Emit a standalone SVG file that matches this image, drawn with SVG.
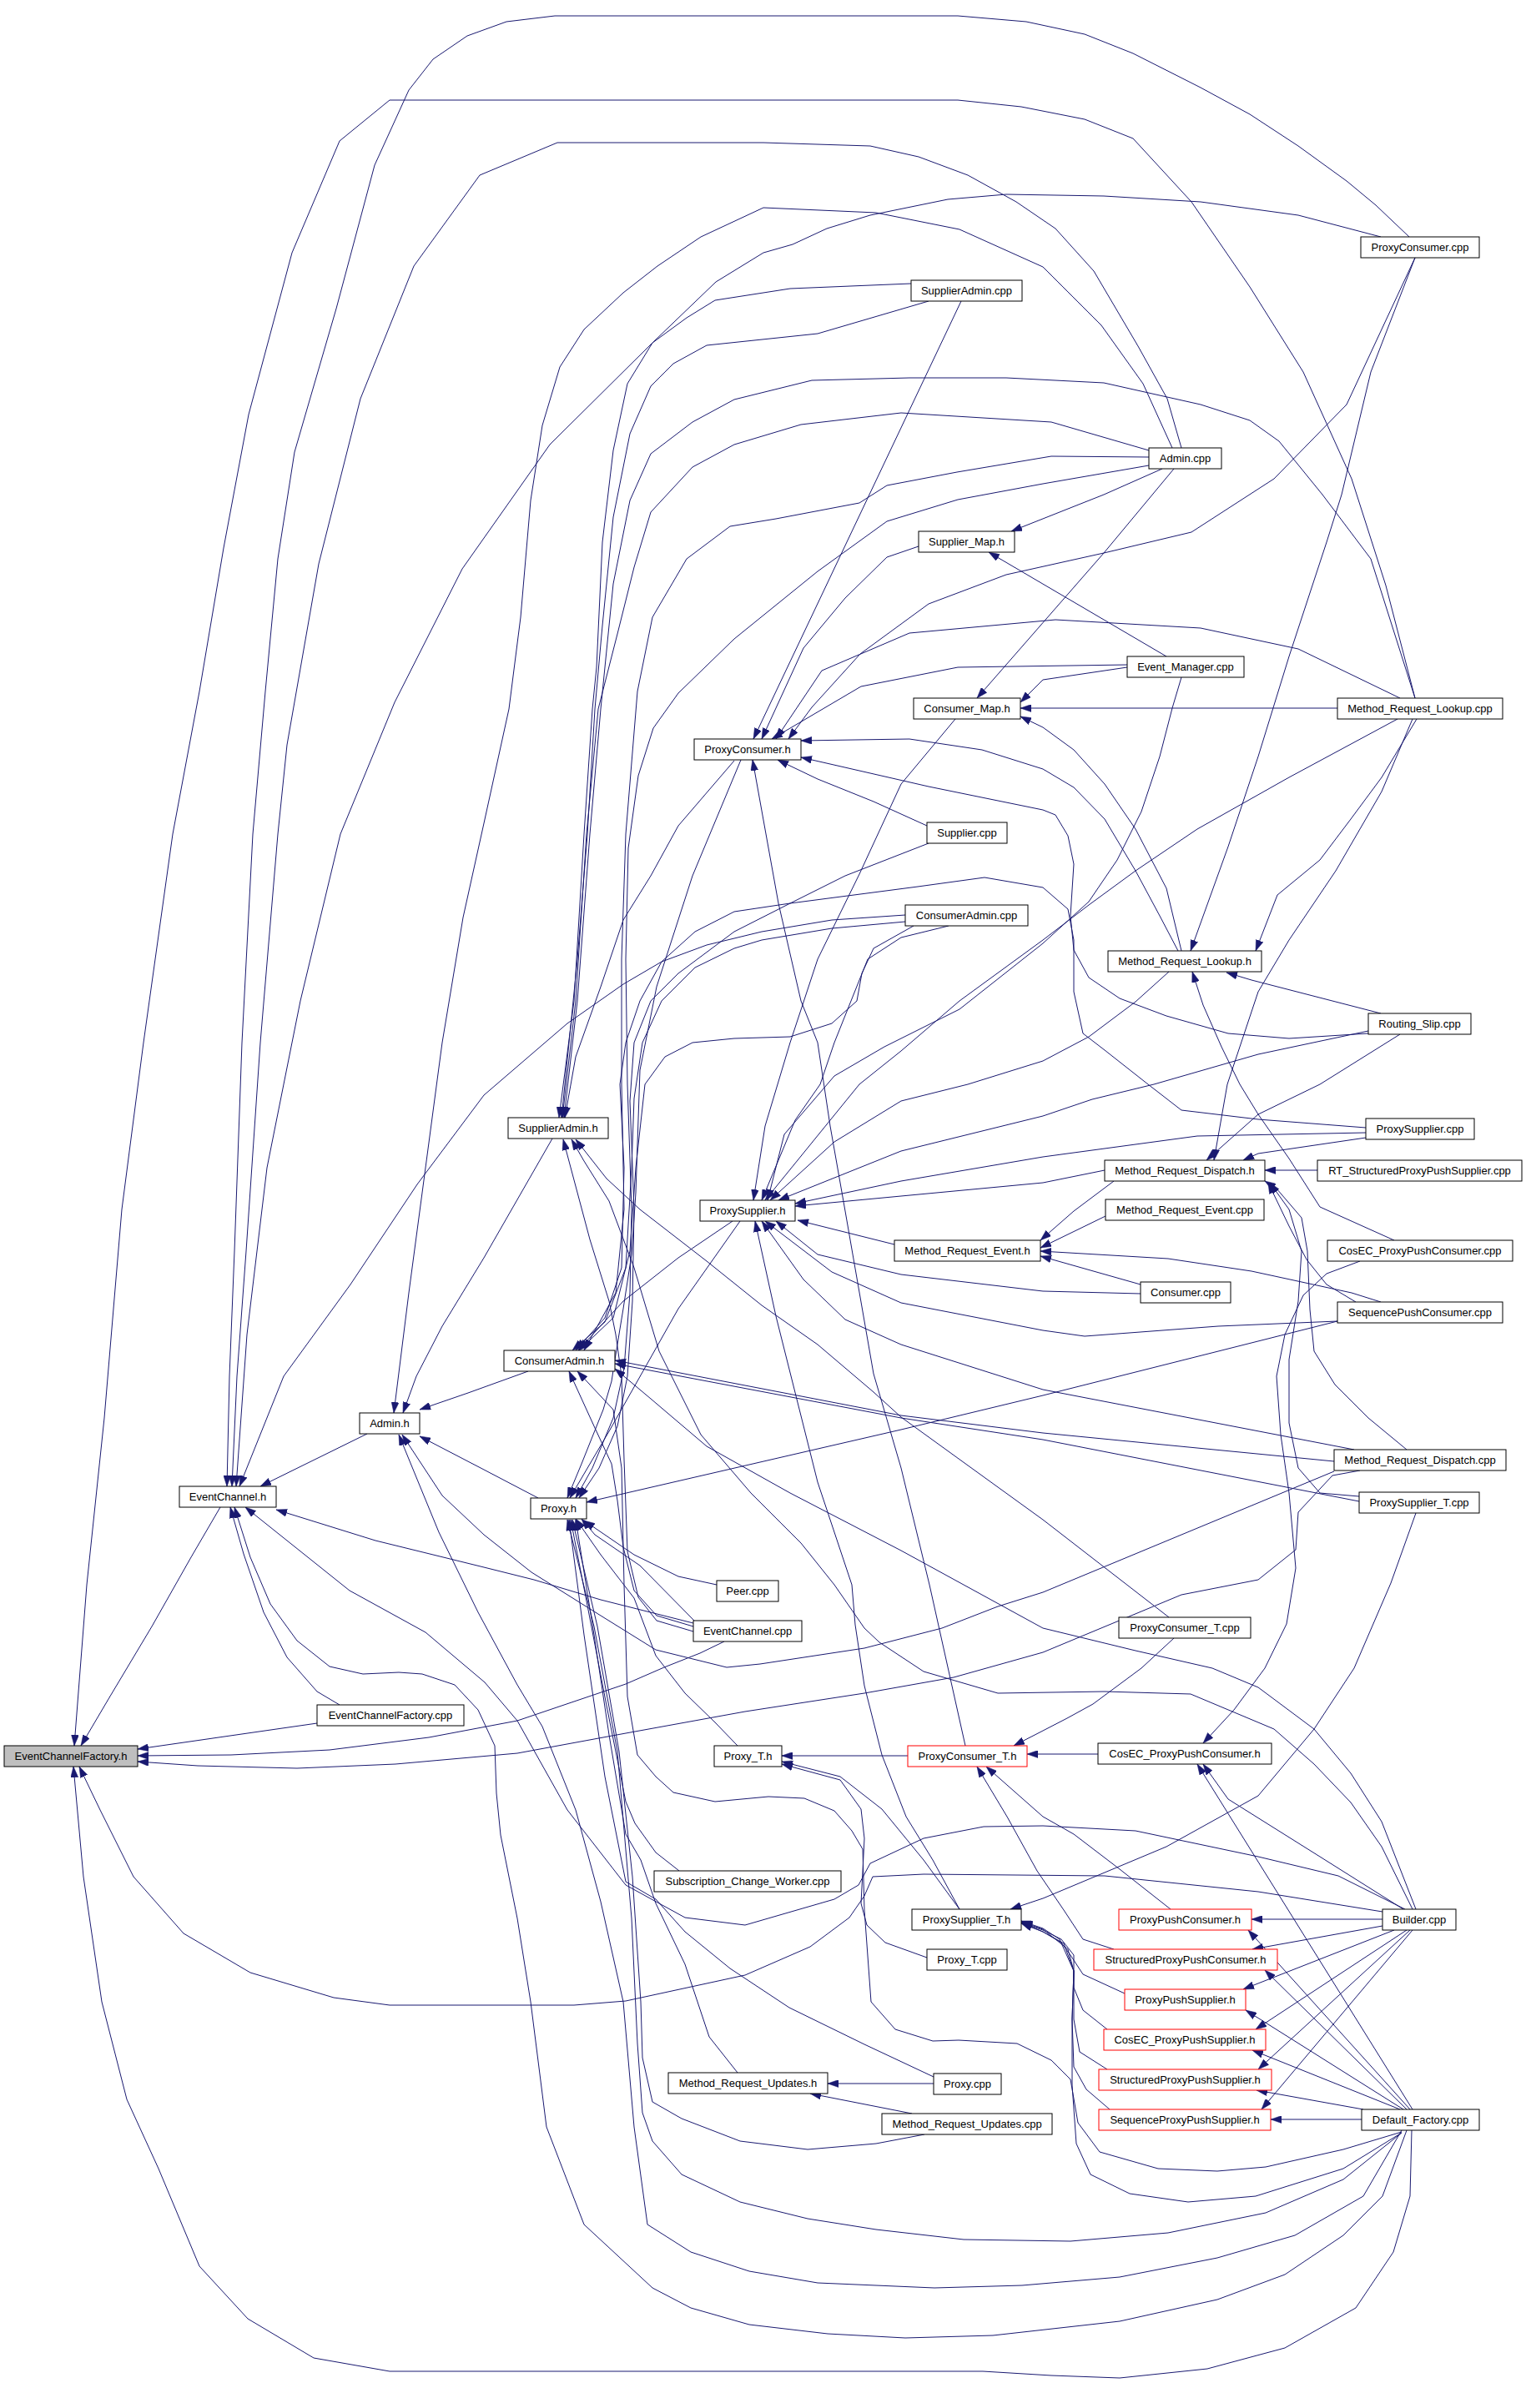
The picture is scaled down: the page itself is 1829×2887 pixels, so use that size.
<svg xmlns="http://www.w3.org/2000/svg" width="1829" height="2887" viewBox="0 0 1829 2887">
<style>
.nd rect{fill:#ffffff;stroke:#000000;stroke-width:1}
.gr rect{fill:#bfbfbf}
.rd rect{stroke:#ff0000}
.nd text{font-family:"Liberation Sans",Arial,sans-serif;font-size:13px;text-anchor:middle;fill:#000000}
#edges path{fill:none;stroke:#191970;stroke-width:1;stroke-linejoin:round;marker-end:url(#a)}
</style>
<defs>
<marker id="a" viewBox="0 0 13 9" refX="13" refY="4.5" markerWidth="13" markerHeight="9" markerUnits="userSpaceOnUse" orient="auto"><path d="M0,0 L13,4.5 L0,9 z" fill="#191970" stroke="#191970" stroke-width="0.5"/></marker>
</defs>
<rect width="1829" height="2887" fill="#ffffff"/>
<g id="edges">
<path d="M264,1807 L229,1867 L182,1950 L130,2037 L97,2093"/>
<path d="M1696,837 L1661,702 L1620,574 L1562,446 L1498,344 L1428,242 L1358,166 L1300,143 L1224,128 L1148,120 L467,120 L407,169 L350,303 L298,497 L268,657 L239,829 L207,1000 L172,1250 L146,1450 L125,1700 L104,1900 L89,2093"/>
<path d="M380,2066 L165,2097"/>
<path d="M868,1968 L839,1982 L796,1999 L750,2019 L620,2063 L514,2083 L395,2098 L277,2104 L165,2105"/>
<path d="M1630,1763 L1597,1769 L1556,1813 L1553,1858 L1508,1894 L1416,1912 L1250,1981 L1143,2011 L1036,2030 L893,2052 L750,2078 L620,2102 L474,2115 L356,2120 L237,2117 L165,2112"/>
<path d="M1657,2292 L1508,2268 L1324,2249 L1107,2247 L1046,2250 L1036,2273 L1018,2299 L971,2334 L893,2368 L750,2399 L688,2404 L467,2404 L400,2395 L300,2365 L220,2318 L160,2250 L120,2170 L95,2118"/>
<path d="M1692,2554 L1690,2633 L1670,2700 L1625,2767 L1540,2815 L1447,2840 L1342,2851 L1260,2848 L1178,2843 L467,2843 L376,2827 L297,2780 L239,2717 L190,2600 L152,2517 L122,2400 L100,2250 L88,2118"/>
<path d="M1689,284 L1649,246 L1614,217 L1556,175 L1498,137 L1439,105 L1358,64 L1300,41 L1230,26 L1148,19 L665,19 L607,26 L560,43 L519,71 L490,108 L449,198 L403,370 L353,542 L333,670 L318,829 L303,1000 L290,1250 L281,1500 L275,1650 L272,1782"/>
<path d="M1416,537 L1399,478 L1364,415 L1311,325 L1265,274 L1218,242 L1160,210 L1101,188 L1043,175 L915,171 L668,171 L575,210 L496,319 L432,478 L382,676 L344,893 L333,1000 L312,1250 L295,1500 L284,1650 L278,1782"/>
<path d="M1655,284 L1556,258 L1439,242 L1323,235 L1206,233 L1136,239 L1043,258 L991,274 L950,293 L915,303 L858,338 L782,411 L659,533 L554,682 L473,842 L408,1000 L360,1200 L320,1400 L296,1600 L283,1782"/>
<path d="M1085,1097 L997,1103 L913,1117 L847,1133 L793,1153 L747,1180 L680,1227 L580,1313 L500,1420 L420,1540 L340,1650 L287,1782"/>
<path d="M440,1719 L312,1782"/>
<path d="M831,1946 L720,1918 L640,1894 L580,1879 L450,1847 L331,1810"/>
<path d="M407,2044 L380,2028 L344,1987 L316,1933 L292,1863 L276,1807"/>
<path d="M1686,2554 L1657,2633 L1610,2680 L1540,2727 L1459,2757 L1342,2783 L1190,2800 L1085,2803 L992,2798 L898,2787 L828,2767 L782,2743 L700,2667 L655,2550 L636,2400 L620,2300 L600,2200 L595,2150 L593,2093 L573,2050 L545,2020 L506,2007 L478,2005 L435,2007 L395,1998 L356,1967 L324,1923 L300,1867 L281,1807"/>
<path d="M1684,2289 L1604,2249 L1508,2226 L1361,2195 L1250,2189 L1179,2190 L1107,2204 L1043,2234 L1029,2260 L1000,2277 L893,2308 L821,2299 L750,2260 L680,2170 L620,2063 L581,2017 L510,1957 L419,1907 L294,1807"/>
<path d="M662,1365 L580,1508 L530,1590 L499,1650 L483,1694"/>
<path d="M633,1644 L561,1670 L503,1690"/>
<path d="M645,1796 L580,1762 L503,1722"/>
<path d="M1405,537 L1370,460 L1320,390 L1250,320 L1150,275 L1050,255 L915,249 L840,284 L788,319 L747,351 L700,395 L671,440 L650,510 L636,600 L624,740 L610,850 L580,987 L555,1100 L530,1250 L510,1400 L490,1550 L472,1694"/>
<path d="M1599,1764 L1250,1909 L1196,1926 L1129,1952 L1036,1976 L911,1995 L871,1999 L786,1978 L720,1937 L637,1885 L580,1840 L530,1793 L482,1720"/>
<path d="M1680,2554 L1634,2633 L1552,2680 L1459,2707 L1342,2730 L1225,2740 L1120,2743 L980,2737 L898,2723 L828,2700 L776,2667 L760,2550 L747,2400 L720,2280 L690,2170 L650,2070 L620,2020 L573,1933 L526,1837 L478,1720"/>
<path d="M1401,1939 L1250,1822 L1080,1699 L1047,1669 L980,1612 L913,1565 L847,1512 L767,1450 L727,1413 L690,1366"/>
<path d="M831,1956 L787,1943 L765,1915 L752,1860 L748,1750 L745,1650 L738,1600 L730,1560 L707,1486 L675,1366"/>
<path d="M1693,2289 L1656,2214 L1619,2161 L1575,2115 L1527,2073 L1427,2031 L1324,2028 L1196,2030 L1107,2004 L1054,1969 L1036,1952 L1000,1900 L960,1850 L900,1790 L840,1720 L790,1620 L760,1520 L730,1440 L700,1392 L685,1366"/>
<path d="M1680,2556 L1610,2577 L1517,2598 L1459,2603 L1388,2600 L1318,2580 L1292,2545 L1283,2493 L1260,2470 L1219,2450 L1149,2446 L1118,2447 L1073,2433 L1044,2400 L1036,2290 L1034,2217 L1021,2195 L1000,2171 L964,2156 L921,2154 L857,2160 L807,2149 L786,2130 L764,2104 L752,2034 L748,1900 L745,1760 L735,1690 L692,1644"/>
<path d="M1680,2557 L1610,2600 L1505,2633 L1424,2640 L1354,2630 L1307,2607 L1290,2570 L1285,2500 L1285,2420 L1287,2363 L1275,2330 L1250,2316 L1224,2305"/>
<path d="M1680,2557 L1610,2613 L1517,2653 L1400,2677 L1283,2687 L1155,2685 L1050,2673 L968,2660 L887,2640 L817,2607 L782,2567 L770,2533 L764,2450 L757,2300 L740,2100 L712,1950 L680,1822"/>
<path d="M1108,2559 L1050,2570 L968,2577 L887,2567 L817,2540 L782,2520 L770,2467 L768,2400 L758,2250 L742,2100 L716,1950 L686,1822"/>
<path d="M884,2485 L850,2442 L821,2355 L786,2282 L768,2230 L750,2199 L730,2080 L712,1960 L690,1822"/>
<path d="M814,2243 L786,2221 L761,2186 L750,2160 L728,2050 L705,1930 L684,1822"/>
<path d="M1119,2490 L1036,2451 L946,2407 L875,2360 L821,2316 L786,2277 L750,2256 L725,2130 L700,1960 L682,1822"/>
<path d="M884,2093 L857,2065 L821,2030 L786,1985 L760,1916 L720,1864 L690,1821"/>
<path d="M859,1900 L813,1890 L760,1864 L700,1823"/>
<path d="M833,1944 L767,1877 L713,1840 L697,1821"/>
<path d="M831,1950 L787,1937 L760,1907 L747,1855 L740,1799 L733,1755 L713,1712 L682,1644"/>
<path d="M888,911 L830,1050 L787,1183 L767,1283 L762,1430 L757,1504 L747,1569 L737,1630 L733,1656 L723,1690 L697,1755 L680,1796"/>
<path d="M887,1464 L813,1569 L730,1716 L683,1796"/>
<path d="M878,1464 L813,1508 L747,1560 L693,1619"/>
<path d="M1603,1584 L1250,1673 L1080,1714 L703,1801"/>
<path d="M1599,1752 L1250,1718 L1080,1697 L737,1631"/>
<path d="M1629,1800 L1250,1726 L1080,1700 L737,1635"/>
<path d="M1697,2289 L1656,2184 L1619,2126 L1575,2073 L1508,2023 L1453,2000 L1361,1979 L1250,1952 L1080,1859 L947,1790 L847,1734 L780,1677 L737,1641"/>
<path d="M1092,340 L947,346 L857,360 L823,381 L782,411 L752,460 L735,540 L722,650 L715,800 L710,850 L700,1000 L688,1200 L670,1340"/>
<path d="M1696,837 L1643,670 L1585,593 L1533,529 L1498,504 L1439,485 L1323,459 L1206,453 L1090,453 L973,456 L880,479 L830,506 L780,544 L755,600 L735,700 L720,850 L707,1000 L692,1200 L676,1340"/>
<path d="M1113,361 L980,400 L847,414 L807,436 L780,463 L755,520 L735,620 L722,750 L713,850 L704,1000 L692,1150 L682,1250 L673,1340"/>
<path d="M1377,540 L1260,506 L1080,495 L960,509 L880,533 L830,560 L780,614 L760,680 L740,760 L717,850 L703,1000 L690,1200 L674,1340"/>
<path d="M1377,548 L1260,547 L1147,566 L1063,582 L1030,603 L930,622 L875,631 L823,670 L782,740 L764,829 L750,1000 L745,1150 L745,1300 L748,1450 L738,1550 L700,1619"/>
<path d="M1377,558 L1250,580 L1148,599 L1063,625 L980,685 L880,766 L813,831 L783,873 L765,930 L753,1017 L750,1150 L752,1300 L757,1450 L755,1550 L748,1640 L735,1700 L710,1760 L690,1796"/>
<path d="M1152,361 L903,886"/>
<path d="M1101,655 L1063,668 L1013,717 L963,777 L913,886"/>
<path d="M1351,797 L1148,800 L1032,823 L925,886"/>
<path d="M1678,837 L1556,778 L1439,753 L1265,743 L1090,759 L985,804 L930,886"/>
<path d="M1696,309 L1614,485 L1527,574 L1428,638 L1323,663 L1206,689 L1113,724 L1031,784 L973,848 L945,886"/>
<path d="M1412,1140 L1390,1098 L1361,1044 L1324,982 L1287,944 L1250,922 L1177,899 L1090,886 L960,888"/>
<path d="M1416,1140 L1398,1065 L1361,994 L1324,940 L1287,899 L1250,872 L1223,859"/>
<path d="M1640,1239 L1545,1245 L1472,1239 L1398,1218 L1342,1197 L1305,1172 L1287,1139 L1283,1098 L1287,1036 L1280,1002 L1265,977 L1250,971 L1113,943 L960,908"/>
<path d="M1111,990 L1047,961 L980,934 L932,911"/>
<path d="M1157,2093 L1114,1900 L1080,1760 L1047,1647 L1013,1452 L995,1350 L980,1250 L960,1200 L933,1083 L902,911"/>
<path d="M1145,862 L1080,940 L1030,1048 L980,1150 L947,1250 L917,1350 L903,1439"/>
<path d="M1150,2289 L1118,2230 L1086,2178 L1057,2104 L1036,2021 L1025,1948 L1021,1900 L980,1777 L930,1578 L905,1464"/>
<path d="M1324,1403 L1250,1418 L1080,1434 L953,1446"/>
<path d="M1637,1358 L1435,1362 L1250,1387 L1080,1416 L953,1443"/>
<path d="M1072,1492 L956,1463"/>
<path d="M1367,1551 L1250,1548 L1080,1528 L980,1504 L930,1464"/>
<path d="M1603,1584 L1460,1590 L1300,1602 L1250,1595 L1080,1562 L997,1525 L917,1464"/>
<path d="M1623,1738 L1250,1666 L1080,1612 L1013,1582 L963,1534 L913,1464"/>
<path d="M1137,1110 L1080,1124 L1040,1150 L1000,1250 L983,1300 L953,1343 L913,1439"/>
<path d="M1416,812 L1405,849 L1390,907 L1368,973 L1339,1031 L1305,1081 L1250,1131 L1150,1210 L1060,1255 L1000,1290 L940,1360 L920,1439"/>
<path d="M1675,862 L1545,932 L1435,994 L1361,1044 L1305,1085 L1250,1127 L1150,1200 L1080,1260 L1030,1300 L917,1439"/>
<path d="M1401,1165 L1361,1201 L1305,1243 L1250,1272 L1160,1300 L1080,1320 L1000,1369 L923,1439"/>
<path d="M1640,1236 L1508,1264 L1383,1300 L1309,1318 L1250,1338 L1080,1380 L933,1439"/>
<path d="M1696,309 L1643,446 L1608,593 L1590,650 L1545,787 L1508,907 L1472,1015 L1427,1140"/>
<path d="M1655,1215 L1500,1175 L1470,1166"/>
<path d="M1698,862 L1656,932 L1619,982 L1582,1031 L1531,1073 L1505,1140"/>
<path d="M1671,1487 L1582,1447 L1545,1389 L1508,1336 L1486,1300 L1464,1255 L1442,1205 L1429,1165"/>
<path d="M1693,862 L1656,949 L1601,1044 L1545,1127 L1508,1189 L1471,1300 L1455,1391"/>
<path d="M1678,1240 L1582,1300 L1508,1336 L1446,1391"/>
<path d="M1637,1364 L1508,1383 L1490,1391"/>
<path d="M1579,1403 L1516,1403"/>
<path d="M1335,1416 L1287,1452 L1247,1487"/>
<path d="M1325,1458 L1247,1496"/>
<path d="M1367,1540 L1247,1506"/>
<path d="M1655,1561 L1620,1550 L1500,1524 L1400,1509 L1247,1500"/>
<path d="M1686,1738 L1640,1700 L1600,1660 L1575,1620 L1570,1570 L1567,1500 L1560,1460 L1530,1425 L1516,1416"/>
<path d="M1629,1794 L1582,1790 L1556,1760 L1545,1706 L1545,1630 L1556,1560 L1560,1500 L1545,1450 L1522,1418"/>
<path d="M1625,1561 L1590,1540 L1566,1510 L1545,1470 L1520,1418"/>
<path d="M1630,1512 L1590,1527 L1562,1553 L1540,1600 L1530,1650 L1535,1720 L1545,1790 L1553,1880 L1542,1947 L1516,2000 L1479,2050 L1442,2090"/>
<path d="M1351,800 L1250,815 L1223,842"/>
<path d="M1603,849 L1223,849"/>
<path d="M1407,562 L1323,663 L1171,837"/>
<path d="M1393,562 L1323,593 L1212,637"/>
<path d="M1398,787 L1185,662"/>
<path d="M1697,1814 L1667,1898 L1623,2000 L1575,2073 L1508,2153 L1398,2214 L1250,2276 L1211,2289"/>
<path d="M1407,1964 L1368,2000 L1310,2043 L1279,2060 L1250,2075 L1215,2093"/>
<path d="M1088,2105 L937,2105"/>
<path d="M1150,2289 L1107,2230 L1057,2169 L1007,2130 L937,2112"/>
<path d="M1111,2347 L1061,2329 L1039,2308 L1032,2282 L1036,2204 L1032,2169 L1007,2134 L937,2115"/>
<path d="M1316,2103 L1231,2103"/>
<path d="M1403,2289 L1342,2241 L1287,2199 L1250,2178 L1182,2118"/>
<path d="M1335,2337 L1298,2325 L1275,2290 L1243,2243 L1207,2178 L1171,2118"/>
<path d="M1348,2390 L1298,2367 L1283,2344 L1272,2329 L1250,2316 L1224,2306"/>
<path d="M1327,2433 L1298,2410 L1287,2383 L1287,2344 L1272,2325 L1250,2314 L1224,2305"/>
<path d="M1327,2481 L1294,2460 L1287,2421 L1287,2363 L1280,2337 L1250,2313 L1224,2304"/>
<path d="M1330,2529 L1302,2505 L1287,2478 L1285,2421 L1287,2363 L1270,2325 L1250,2312 L1224,2303"/>
<path d="M1657,2301 L1500,2301"/>
<path d="M1657,2309 L1501,2337"/>
<path d="M1671,2314 L1490,2385"/>
<path d="M1686,2314 L1505,2433"/>
<path d="M1690,2314 L1508,2481"/>
<path d="M1693,2314 L1512,2529"/>
<path d="M1682,2289 L1582,2226 L1472,2157 L1442,2115"/>
<path d="M1632,2541 L1523,2541"/>
<path d="M1634,2529 L1506,2506"/>
<path d="M1678,2529 L1501,2458"/>
<path d="M1682,2529 L1493,2410"/>
<path d="M1686,2529 L1516,2362"/>
<path d="M1690,2529 L1496,2314"/>
<path d="M1693,2529 L1435,2115"/>
<path d="M1119,2498 L992,2498"/>
<path d="M1093,2534 L971,2510"/>
<path d="M1637,1352 L1508,1342 L1416,1331 L1376,1300 L1324,1259 L1298,1239 L1287,1189 L1287,1127 L1280,1090 L1250,1064 L1180,1052 L1100,1063 L947,1083 L880,1093 L833,1117 L793,1153 L767,1200 L750,1250 L743,1300 L748,1400 L745,1520 L725,1580 L690,1619"/>
<path d="M1095,1110 L1047,1137 L1033,1167 L1027,1200 L997,1227 L947,1243 L880,1245 L830,1250 L797,1267 L773,1300 L762,1400 L755,1500 L735,1580 L694,1619"/>
<path d="M1085,1105 L997,1113 L913,1127 L880,1137 L833,1160 L793,1200 L770,1250 L760,1317 L757,1400 L750,1520 L725,1585 L686,1619"/>
<path d="M1113,1011 L1013,1050 L947,1083 L880,1117 L813,1167 L780,1200 L760,1250 L755,1320 L760,1450 L758,1560 L752,1650 L740,1710 L718,1760 L694,1796"/>
<path d="M880,912 L813,990 L780,1050 L747,1103 L720,1183 L690,1267 L677,1340"/>
</g>
<g id="n_EventChannelFactory_h" class="nd gr"><rect x="5" y="2093" width="160" height="25"/><text x="85" y="2110">EventChannelFactory.h</text></g>
<g id="n_EventChannel_h" class="nd"><rect x="215" y="1782" width="116" height="25"/><text x="273" y="1799">EventChannel.h</text></g>
<g id="n_EventChannelFactory_cpp" class="nd"><rect x="380" y="2044" width="176" height="25"/><text x="468" y="2061">EventChannelFactory.cpp</text></g>
<g id="n_Admin_h" class="nd"><rect x="431" y="1694" width="72" height="25"/><text x="467" y="1711">Admin.h</text></g>
<g id="n_SupplierAdmin_h" class="nd"><rect x="609" y="1340" width="120" height="25"/><text x="669" y="1357">SupplierAdmin.h</text></g>
<g id="n_ConsumerAdmin_h" class="nd"><rect x="604" y="1619" width="133" height="25"/><text x="670.5" y="1636">ConsumerAdmin.h</text></g>
<g id="n_Proxy_h" class="nd"><rect x="636" y="1796" width="67" height="25"/><text x="669.5" y="1813">Proxy.h</text></g>
<g id="n_ProxyConsumer_h" class="nd"><rect x="832" y="886" width="128" height="25"/><text x="896" y="903">ProxyConsumer.h</text></g>
<g id="n_ProxySupplier_h" class="nd"><rect x="839" y="1439" width="114" height="25"/><text x="896" y="1456">ProxySupplier.h</text></g>
<g id="n_Peer_cpp" class="nd"><rect x="859" y="1895" width="74" height="25"/><text x="896" y="1912">Peer.cpp</text></g>
<g id="n_EventChannel_cpp" class="nd"><rect x="831" y="1943" width="130" height="25"/><text x="896" y="1960">EventChannel.cpp</text></g>
<g id="n_Proxy_T_h" class="nd"><rect x="856" y="2093" width="81" height="25"/><text x="896.5" y="2110">Proxy_T.h</text></g>
<g id="n_Subscription_Change_Worker_cpp" class="nd"><rect x="784" y="2243" width="224" height="25"/><text x="896" y="2260">Subscription_Change_Worker.cpp</text></g>
<g id="n_Method_Request_Updates_h" class="nd"><rect x="801" y="2485" width="191" height="25"/><text x="896.5" y="2502">Method_Request_Updates.h</text></g>
<g id="n_ProxyConsumer_T_h" class="nd rd"><rect x="1088" y="2093" width="143" height="25"/><text x="1159.5" y="2110">ProxyConsumer_T.h</text></g>
<g id="n_ProxySupplier_T_h" class="nd"><rect x="1093" y="2289" width="131" height="25"/><text x="1158.5" y="2306">ProxySupplier_T.h</text></g>
<g id="n_Proxy_T_cpp" class="nd"><rect x="1111" y="2337" width="96" height="25"/><text x="1159" y="2354">Proxy_T.cpp</text></g>
<g id="n_Proxy_cpp" class="nd"><rect x="1119" y="2486" width="81" height="25"/><text x="1159.5" y="2503">Proxy.cpp</text></g>
<g id="n_Method_Request_Updates_cpp" class="nd"><rect x="1057" y="2534" width="204" height="25"/><text x="1159" y="2551">Method_Request_Updates.cpp</text></g>
<g id="n_SupplierAdmin_cpp" class="nd"><rect x="1092" y="336" width="133" height="25"/><text x="1158.5" y="353">SupplierAdmin.cpp</text></g>
<g id="n_Supplier_Map_h" class="nd"><rect x="1101" y="637" width="115" height="25"/><text x="1158.5" y="654">Supplier_Map.h</text></g>
<g id="n_Consumer_Map_h" class="nd"><rect x="1095" y="837" width="128" height="25"/><text x="1159" y="854">Consumer_Map.h</text></g>
<g id="n_Supplier_cpp" class="nd"><rect x="1111" y="986" width="96" height="25"/><text x="1159" y="1003">Supplier.cpp</text></g>
<g id="n_ConsumerAdmin_cpp" class="nd"><rect x="1085" y="1085" width="147" height="25"/><text x="1158.5" y="1102">ConsumerAdmin.cpp</text></g>
<g id="n_Method_Request_Event_h" class="nd"><rect x="1072" y="1487" width="175" height="25"/><text x="1159.5" y="1504">Method_Request_Event.h</text></g>
<g id="n_Admin_cpp" class="nd"><rect x="1377" y="537" width="87" height="25"/><text x="1420.5" y="554">Admin.cpp</text></g>
<g id="n_Event_Manager_cpp" class="nd"><rect x="1351" y="787" width="140" height="25"/><text x="1421" y="804">Event_Manager.cpp</text></g>
<g id="n_Method_Request_Lookup_h" class="nd"><rect x="1328" y="1140" width="184" height="25"/><text x="1420" y="1157">Method_Request_Lookup.h</text></g>
<g id="n_Method_Request_Dispatch_h" class="nd"><rect x="1324" y="1391" width="192" height="25"/><text x="1420" y="1408">Method_Request_Dispatch.h</text></g>
<g id="n_Method_Request_Event_cpp" class="nd"><rect x="1325" y="1438" width="190" height="25"/><text x="1420" y="1455">Method_Request_Event.cpp</text></g>
<g id="n_Consumer_cpp" class="nd"><rect x="1367" y="1537" width="108" height="25"/><text x="1421" y="1554">Consumer.cpp</text></g>
<g id="n_ProxyConsumer_T_cpp" class="nd"><rect x="1341" y="1939" width="158" height="25"/><text x="1420" y="1956">ProxyConsumer_T.cpp</text></g>
<g id="n_CosEC_ProxyPushConsumer_h" class="nd"><rect x="1316" y="2090" width="208" height="25"/><text x="1420" y="2107">CosEC_ProxyPushConsumer.h</text></g>
<g id="n_ProxyPushConsumer_h" class="nd rd"><rect x="1341" y="2289" width="159" height="25"/><text x="1420.5" y="2306">ProxyPushConsumer.h</text></g>
<g id="n_StructuredProxyPushConsumer_h" class="nd rd"><rect x="1311" y="2337" width="220" height="25"/><text x="1421" y="2354">StructuredProxyPushConsumer.h</text></g>
<g id="n_ProxyPushSupplier_h" class="nd rd"><rect x="1348" y="2385" width="145" height="25"/><text x="1420.5" y="2402">ProxyPushSupplier.h</text></g>
<g id="n_CosEC_ProxyPushSupplier_h" class="nd rd"><rect x="1323" y="2433" width="194" height="25"/><text x="1420" y="2450">CosEC_ProxyPushSupplier.h</text></g>
<g id="n_StructuredProxyPushSupplier_h" class="nd rd"><rect x="1317" y="2481" width="207" height="25"/><text x="1420.5" y="2498">StructuredProxyPushSupplier.h</text></g>
<g id="n_SequenceProxyPushSupplier_h" class="nd rd"><rect x="1317" y="2529" width="206" height="25"/><text x="1420" y="2546">SequenceProxyPushSupplier.h</text></g>
<g id="n_ProxyConsumer_cpp" class="nd"><rect x="1631" y="284" width="142" height="25"/><text x="1702" y="301">ProxyConsumer.cpp</text></g>
<g id="n_Method_Request_Lookup_cpp" class="nd"><rect x="1603" y="837" width="198" height="25"/><text x="1702" y="854">Method_Request_Lookup.cpp</text></g>
<g id="n_Routing_Slip_cpp" class="nd"><rect x="1640" y="1215" width="123" height="25"/><text x="1701.5" y="1232">Routing_Slip.cpp</text></g>
<g id="n_ProxySupplier_cpp" class="nd"><rect x="1637" y="1341" width="130" height="25"/><text x="1702" y="1358">ProxySupplier.cpp</text></g>
<g id="n_RT_StructuredProxyPushSupplier_cpp" class="nd"><rect x="1579" y="1391" width="245" height="25"/><text x="1701.5" y="1408">RT_StructuredProxyPushSupplier.cpp</text></g>
<g id="n_CosEC_ProxyPushConsumer_cpp" class="nd"><rect x="1591" y="1487" width="222" height="25"/><text x="1702" y="1504">CosEC_ProxyPushConsumer.cpp</text></g>
<g id="n_SequencePushConsumer_cpp" class="nd"><rect x="1603" y="1561" width="198" height="25"/><text x="1702" y="1578">SequencePushConsumer.cpp</text></g>
<g id="n_Method_Request_Dispatch_cpp" class="nd"><rect x="1599" y="1738" width="206" height="25"/><text x="1702" y="1755">Method_Request_Dispatch.cpp</text></g>
<g id="n_ProxySupplier_T_cpp" class="nd"><rect x="1629" y="1789" width="144" height="25"/><text x="1701" y="1806">ProxySupplier_T.cpp</text></g>
<g id="n_Builder_cpp" class="nd"><rect x="1657" y="2289" width="88" height="25"/><text x="1701" y="2306">Builder.cpp</text></g>
<g id="n_Default_Factory_cpp" class="nd"><rect x="1632" y="2529" width="141" height="25"/><text x="1702.5" y="2546">Default_Factory.cpp</text></g>
</svg>
